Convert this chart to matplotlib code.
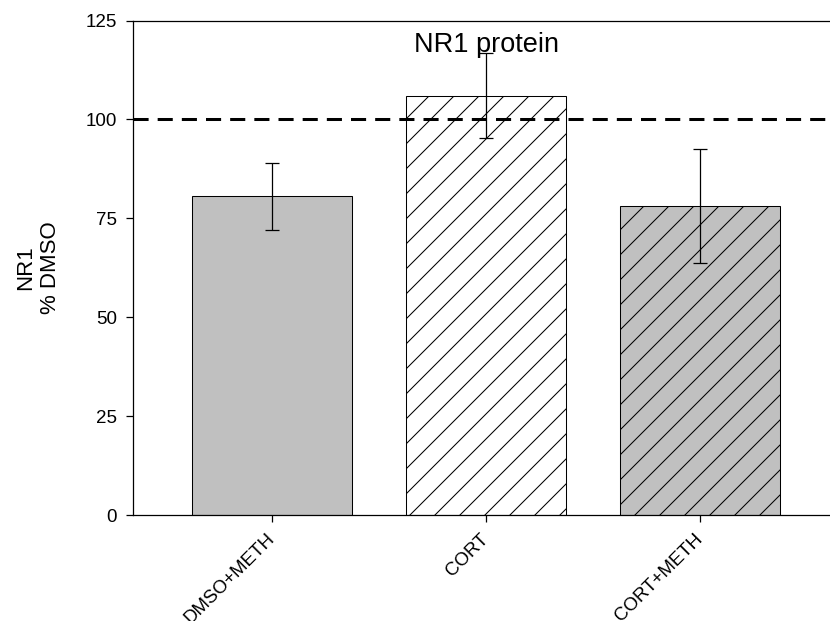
import matplotlib
matplotlib.use("Agg")
import matplotlib.pyplot as plt

# Данные
groups = ["DMSO+METH", "CORT", "CORT+METH"]
values = [80.6, 106.0, 78.1]
errors = [8.5, 10.7, 14.5]
colors = ["#c0c0c0", "white", "#c0c0c0"]
hatches = ["", "//", "//"]
yticks = [0, 25, 50, 75, 100, 125]

plt.rcParams["font.family"] = ["Liberation Sans", "DejaVu Sans"]
plt.rcParams["hatch.linewidth"] = 0.5

fig = plt.figure(figsize=(830 / 150, 621 / 150), dpi=150)
ax = fig.add_axes([133 / 830, 106 / 621, 697 / 830, 494.5 / 621])

x = list(range(len(groups)))
ax.bar(x, values, width=0.75, color=colors, edgecolor="black",
       linewidth=0.5, hatch=hatches, zorder=2)
ax.errorbar(x, values, yerr=errors, fmt="none", ecolor="black",
            elinewidth=0.6, capsize=3.4, capthick=0.6, zorder=4)

# линия 100 %
ax.axhline(100, color="black", linewidth=1.45, dashes=(5, 3), zorder=3)

ax.text(1, 117, "NR1 protein", ha="center", va="baseline", fontsize=13)

ax.set_xlim(-0.65, 2.607)
ax.set_ylim(0, 125)
ax.set_yticks(yticks)
ax.set_xticks(x)
ax.set_xticklabels(groups, rotation=45, ha="right", va="center",
                   rotation_mode="anchor", fontsize=9)
ax.tick_params(axis="y", labelsize=9, length=3.2, width=0.6, pad=4.5)
ax.tick_params(axis="x", length=3.2, width=0.6, pad=7)
ax.set_ylabel("NR1\n% DMSO", fontsize=10.7, labelpad=12)

ax.spines["right"].set_visible(False)
for s in ["left", "bottom", "top"]:
    ax.spines[s].set_linewidth(0.6)

fig.savefig("out.png", dpi=150)
